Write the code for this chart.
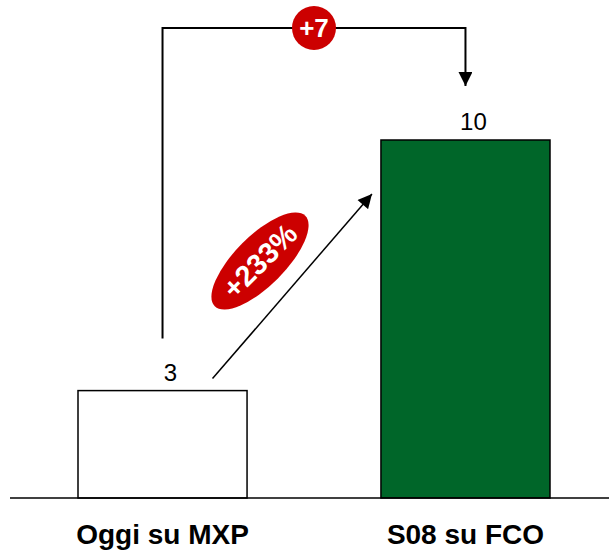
<!DOCTYPE html>
<html>
<head>
<meta charset="utf-8">
<script src="https://cdn.jsdelivr.net/npm/d3@7"></script>
<style>
  body { margin: 0; background: #fff; }
  svg { display: block; font-family: "Liberation Sans", Arial, sans-serif; }
</style>
</head>
<body>
<script>
const w = 609;
const h = 553;

// data
const categories = ["Oggi su MXP", "S08 su FCO"];
const values = [3, 10];
const barColors = ["#ffffff", "#006629"];
const deltaLabel = "+7";
const pctLabel = "+233%";

const svg = d3
  .select("body")
  .append("svg")
  .attr("width", w)
  .attr("height", h);

const xScale = d3
  .scaleBand()
  .domain(categories)
  .range([78, 550])
  .paddingInner(0.442)
  .paddingOuter(0);

const yScale = d3
  .scaleLinear()
  .domain([0, 10])
  .range([498, 140]);

// arrow markers
const defs = svg.append("defs");
defs
  .append("marker")
  .attr("id", "arrow")
  .attr("viewBox", "0 0 10 10")
  .attr("refX", 10)
  .attr("refY", 5)
  .attr("markerUnits", "userSpaceOnUse")
  .attr("markerWidth", 15)
  .attr("markerHeight", 14)
  .attr("orient", "auto")
  .append("path")
  .attr("d", "M0,0 L10,5 L0,10 Z")
  .attr("fill", "#000");

// bars
svg
  .selectAll("rect.bar")
  .data(values)
  .enter()
  .append("rect")
  .attr("class", "bar")
  .attr("x", (d, i) => xScale(categories[i]))
  .attr("y", d => yScale(d))
  .attr("width", xScale.bandwidth())
  .attr("height", d => yScale(0) - yScale(d))
  .attr("fill", (d, i) => barColors[i])
  .attr("stroke", "#000")
  .attr("stroke-width", 1.5);

// baseline
svg
  .append("line")
  .attr("x1", 10)
  .attr("x2", w)
  .attr("y1", yScale(0))
  .attr("y2", yScale(0))
  .attr("stroke", "#000")
  .attr("stroke-width", 1.5);

// value labels
svg
  .selectAll("text.value")
  .data(values)
  .enter()
  .append("text")
  .attr("class", "value")
  .attr("x", (d, i) => xScale(categories[i]) + xScale.bandwidth() / 2 + 8)
  .attr("y", d => yScale(d) - 10)
  .attr("text-anchor", "middle")
  .style("font-size", "24px")
  .text(d => d);

// category labels
svg
  .selectAll("text.cat")
  .data(categories)
  .enter()
  .append("text")
  .attr("class", "cat")
  .attr("x", d => xScale(d) + xScale.bandwidth() / 2)
  .attr("y", 544)
  .attr("text-anchor", "middle")
  .style("font-size", "28px")
  .style("font-weight", "bold")
  .text(d => d);

// bracket from bar 1 to bar 2
const c1 = xScale(categories[0]) + xScale.bandwidth() / 2;
const c2 = xScale(categories[1]) + xScale.bandwidth() / 2;
const topY = 28;
svg
  .append("path")
  .attr(
    "d",
    "M" + c1 + "," + (yScale(values[0]) - 52) +
    " L" + c1 + "," + topY +
    " L" + c2 + "," + topY +
    " L" + c2 + "," + (yScale(values[1]) - 54)
  )
  .attr("fill", "none")
  .attr("stroke", "#000")
  .attr("stroke-width", 2)
  .attr("marker-end", "url(#arrow)");

// +7 badge
const midX = (c1 + c2) / 2;
svg
  .append("circle")
  .attr("cx", midX)
  .attr("cy", topY)
  .attr("r", 22)
  .attr("fill", "#cc0000");
svg
  .append("text")
  .attr("x", midX)
  .attr("y", topY + 9)
  .attr("text-anchor", "middle")
  .attr("fill", "#fff")
  .style("font-size", "26px")
  .style("font-weight", "bold")
  .text(deltaLabel);

// diagonal arrow
const x0 = c1 + 50;
const y0 = yScale(values[0]) - 12;
const x1 = xScale(categories[1]) - 9;
const y1 = yScale(values[1]) + 54;
svg
  .append("line")
  .attr("x1", x0)
  .attr("y1", y0)
  .attr("x2", x1)
  .attr("y2", y1)
  .attr("stroke", "#000")
  .attr("stroke-width", 1.5)
  .attr("marker-end", "url(#arrow)");

// +233% ellipse
const ex = 260;
const ey = 261;
const badge = svg
  .append("g")
  .attr("transform", "translate(" + ex + "," + ey + ") rotate(-45)");
badge
  .append("ellipse")
  .attr("rx", 64)
  .attr("ry", 25)
  .attr("fill", "#cc0000");
badge
  .append("text")
  .attr("y", 10)
  .attr("text-anchor", "middle")
  .attr("fill", "#fff")
  .style("font-size", "29px")
  .style("font-weight", "bold")
  .text(pctLabel);
</script>
</body>
</html>
